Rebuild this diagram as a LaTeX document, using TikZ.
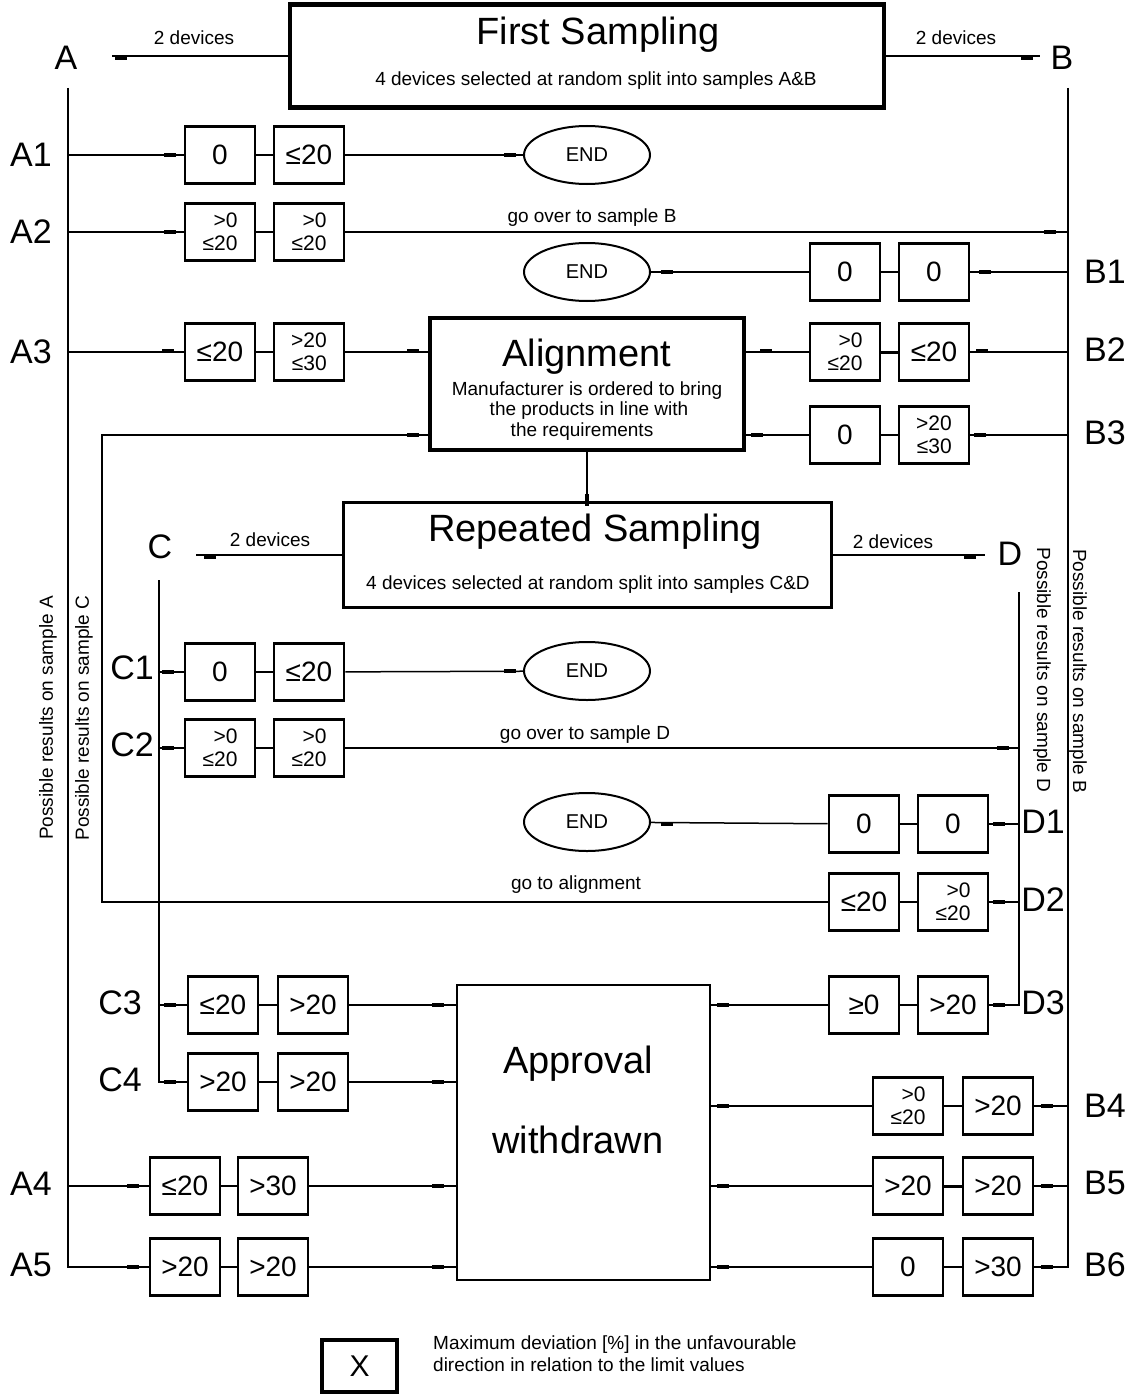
\documentclass[tikz,border=0pt]{standalone}
\usepackage{fontspec}
\setmainfont{Liberation Sans}
\usetikzlibrary{shapes.geometric}
\tikzset{
 conn/.style={line width=1.5pt},
 valbox/.style={draw, line width=2.6pt, minimum width=70pt, minimum height=57pt, inner sep=0pt, font=\fontsize{28}{28}\selectfont},
 valtwo/.style={valbox, align=right, font=\fontsize{21}{23.5}\selectfont},
 endell/.style={ellipse, draw, line width=2pt, minimum width=126pt, minimum height=58pt, inner sep=0pt, font=\fontsize{20}{20}\selectfont},
 lbl/.style={font=\fontsize{34}{34}\selectfont, inner sep=0pt},
 small/.style={font=\fontsize{19}{20.5}\selectfont, inner sep=0pt},
 smallb/.style={small, anchor=base},
 titletext/.style={font=\fontsize{38}{38}\selectfont, inner sep=0pt, anchor=base},
 pinmark/.style={line width=4pt},
 bigbox/.style={draw, inner sep=0pt},
}
\newcommand\pinh[2]{\draw[pinmark] ({#1-6},#2) -- ({#1+6},#2);}
\newcommand\pinv[2]{\draw[pinmark] (#1,{#2-6}) -- (#1,{#2+6});}
\begin{document}
\begin{tikzpicture}[x=1pt,y=-1pt]
\useasboundingbox (0,0) rectangle (1128,1394);

% ---------- big boxes ----------
\node[bigbox, line width=4.5pt, minimum width=594pt, minimum height=103pt] (fs) at (587,56) {};
\node[titletext] (fst) at (598,45) {First Sampling};
\node[smallb] (fss) at (596,86) {4 devices selected at random split into samples A\&B};

\node[bigbox, line width=4pt, minimum width=314pt, minimum height=132pt] (align) at (587,384) {};
\node[titletext] (alt) at (587,366) {Alignment};
\node[smallb] (al1) at (587,395) {Manufacturer is ordered to bring};
\node[smallb] (al2) at (589,415) {the products in line with};
\node[smallb] (al3) at (582,436) {the requirements};

\node[bigbox, line width=3pt, minimum width=488pt, minimum height=105pt] (rs) at (587,555) {};
\node[titletext] (rst) at (595,541) {Repeated Sampling};
\node[smallb] (rss) at (588,589) {4 devices selected at random split into samples C\&D};

\node[bigbox, line width=2.8pt, minimum width=253pt, minimum height=295pt] (appr) at (583.5,1132.5) {};
\node[titletext] (apt1) at (578,1073) {Approval};
\node[titletext] (apt2) at (578,1153) {withdrawn};

% ---------- top labels ----------
\node[lbl] (lA) at (66,58) {A};
\node[lbl] (lB) at (1062,58) {B};
\node[smallb] (dA) at (194,45) {2 devices};
\node[smallb] (dB) at (956,45) {2 devices};
\coordinate (Aend) at (112,56);
\coordinate (Bend) at (1040,56);
\draw[conn] (fs.west) -- (Aend);
\draw[conn] (fs.east) -- (Bend);

\node[lbl] (lC) at (160,547) {C};
\node[lbl] (lD) at (1010,554) {D};
\node[smallb] (dC) at (270,546) {2 devices};
\node[smallb] (dD) at (893,548) {2 devices};
\coordinate (Cend) at (196,555);
\coordinate (Dend) at (985,555);
\draw[conn] (rs.west) -- (Cend);
\draw[conn] (rs.east) -- (Dend);

% ---------- buses ----------
\coordinate (Atop) at (68,88);
\coordinate (Btop) at (1068,88);
\coordinate (Ctop) at (159,580);
\coordinate (Dtop) at (1019,592);

% ---------- row boxes ----------
\node[valbox] (a1a) at (220,155) {0};
\node[valbox] (a1b) at (309,155) {≤20};
\node[endell] (e1) at (587,155) {END};

\node[valtwo] (a2a) at (220,232) {>0\\≤20};
\node[valtwo] (a2b) at (309,232) {>0\\≤20};

\node[endell] (e2) at (587,272) {END};
\node[valbox] (b1a) at (845,272) {0};
\node[valbox] (b1b) at (934,272) {0};

\node[valbox] (a3a) at (220,352) {≤20};
\node[valtwo] (a3b) at (309,352) {>20\\≤30};
\node[valtwo] (b2a) at (845,352) {>0\\≤20};
\node[valbox] (b2b) at (934,352) {≤20};

\node[valbox] (b3a) at (845,435) {0};
\node[valtwo] (b3b) at (934,435) {>20\\≤30};

\node[valbox] (c1a) at (220,672) {0};
\node[valbox] (c1b) at (309,672) {≤20};
\node[endell] (e3) at (587,671) {END};

\node[valtwo] (c2a) at (220,748) {>0\\≤20};
\node[valtwo] (c2b) at (309,748) {>0\\≤20};

\node[endell] (e4) at (587,822) {END};
\node[valbox] (d1a) at (864,824) {0};
\node[valbox] (d1b) at (953,824) {0};

\node[valbox] (d2a) at (864,902) {≤20};
\node[valtwo] (d2b) at (953,902) {>0\\≤20};

\node[valbox] (c3a) at (223,1005) {≤20};
\node[valbox] (c3b) at (313,1005) {>20};
\node[valbox] (d3a) at (864,1005) {≥0};
\node[valbox] (d3b) at (953,1005) {>20};

\node[valbox] (c4a) at (223,1082) {>20};
\node[valbox] (c4b) at (313,1082) {>20};
\node[valtwo] (b4a) at (908,1106) {>0\\≤20};
\node[valbox] (b4b) at (998,1106) {>20};

\node[valbox] (a4a) at (185,1186) {≤20};
\node[valbox] (a4b) at (273,1186) {>30};
\node[valbox] (b5a) at (908,1186) {>20};
\node[valbox] (b5b) at (998,1186) {>20};

\node[valbox] (a5a) at (185,1267) {>20};
\node[valbox] (a5b) at (273,1267) {>20};
\node[valbox] (b6a) at (908,1267) {0};
\node[valbox] (b6b) at (998,1267) {>30};

% ---------- row labels ----------
\node[lbl] (lA1) at (31,155) {A1};
\node[lbl] (lA2) at (31,232) {A2};
\node[lbl] (lA3) at (31,352) {A3};
\node[lbl] (lA4) at (31,1184) {A4};
\node[lbl] (lA5) at (31,1265) {A5};
\node[lbl] (lB1) at (1105,272) {B1};
\node[lbl] (lB2) at (1105,350) {B2};
\node[lbl] (lB3) at (1105,433) {B3};
\node[lbl] (lB4) at (1105,1106) {B4};
\node[lbl] (lB5) at (1105,1183) {B5};
\node[lbl] (lB6) at (1105,1265) {B6};
\node[lbl] (lC1) at (132,668) {C1};
\node[lbl] (lC2) at (132,745) {C2};
\node[lbl] (lC3) at (120,1003) {C3};
\node[lbl] (lC4) at (120,1080) {C4};
\node[lbl] (lD1) at (1043,822) {D1};
\node[lbl] (lD2) at (1043,900) {D2};
\node[lbl] (lD3) at (1043,1003) {D3};

% ---------- vertical texts ----------
\node[small, rotate=90] (vA) at (48,718) {Possible results on sample A};
\node[small, rotate=90] (vC) at (84,718) {Possible results on sample C};
\node[small, rotate=-90] (vD) at (1042,670) {Possible results on sample D};
\node[small, rotate=-90] (vB) at (1078,671) {Possible results on sample B};

% ---------- line labels ----------
\node[smallb] (gB) at (592,222) {go over to sample B};
\node[smallb] (gD) at (585,739) {go over to sample D};
\node[smallb] (gAl) at (576,889) {go to alignment};

% ---------- connectors ----------
\draw[conn] (Atop) |- (a5a.west);
\draw[conn] (Btop) |- (b6b.east);
\draw[conn] (Ctop) |- (c4a.west);
\draw[conn] (Dtop) |- (d3b.east);

\draw[conn] (a1a.west -| Atop) -- (a1a.west);
\draw[conn] (a1a) -- (a1b);
\draw[conn] (a1b) -- (e1);

\draw[conn] (a2a.west -| Atop) -- (a2a.west);
\draw[conn] (a2a) -- (a2b);
\draw[conn] (a2b.east) -- (a2b.east -| Btop);

\draw[conn] (e2) -- (b1a);
\draw[conn] (b1a) -- (b1b);
\draw[conn] (b1b.east) -- (b1b.east -| Btop);

\draw[conn] (a3a.west -| Atop) -- (a3a.west);
\draw[conn] (a3a) -- (a3b);
\draw[conn] (a3b.east) -- (a3b.east -| align.west);

\draw[conn] (align.east |- b2a) -- (b2a.west);
\draw[line width=3pt] (b2a) -- (b2b);
\draw[conn] (b2b.east) -- (b2b.east -| Btop);

\draw[conn] (align.east |- b3a) -- (b3a.west);
\draw[conn] (b3a) -- (b3b);
\draw[conn] (b3b.east) -- (b3b.east -| Btop);

\coordinate (loopc) at (102,435);
\draw[conn] (d2a.west) -| (loopc) -- (align.west |- b3a);

\draw[conn] (align) -- (rs);

\draw[conn] (c1a.west -| Ctop) -- (c1a.west);
\draw[conn] (c1a) -- (c1b);
\draw[conn] (c1b) -- (e3);

\draw[conn] (c2a.west -| Ctop) -- (c2a.west);
\draw[conn] (c2a) -- (c2b);
\draw[conn] (c2b.east) -- (c2b.east -| Dtop);

\draw[conn] (e4) -- (d1a);
\draw[conn] (d1a) -- (d1b);
\draw[conn] (d1b.east) -- (d1b.east -| Dtop);

\draw[conn] (d2a) -- (d2b);
\draw[conn] (d2b.east) -- (d2b.east -| Dtop);

\draw[conn] (c3a.west -| Ctop) -- (c3a.west);
\draw[conn] (c3a) -- (c3b);
\draw[conn] (c3b.east) -- (c3b.east -| appr.west);

\draw[conn] (c4a) -- (c4b);
\draw[conn] (c4b.east) -- (c4b.east -| appr.west);

\draw[conn] (a4a.west -| Atop) -- (a4a.west);
\draw[conn] (a4a) -- (a4b);
\draw[conn] (a4b.east) -- (a4b.east -| appr.west);

\draw[conn] (a5a) -- (a5b);
\draw[conn] (a5b.east) -- (a5b.east -| appr.west);

\draw[conn] (appr.east |- d3a) -- (d3a.west);
\draw[conn] (d3a) -- (d3b);

\draw[conn] (appr.east |- b4a) -- (b4a.west);
\draw[conn] (b4a) -- (b4b);
\draw[conn] (b4b.east) -- (b4b.east -| Btop);

\draw[conn] (appr.east |- b5a) -- (b5a.west);
\draw[line width=3pt] (b5a) -- (b5b);
\draw[conn] (b5b.east) -- (b5b.east -| Btop);

\draw[conn] (appr.east |- b6a) -- (b6a.west);
\draw[conn] (b6a) -- (b6b);

% ---------- pin marks ----------
\pinh{121}{58} \pinh{1027}{58}
\pinh{170}{155} \pinh{510}{155}
\pinh{170}{232} \pinh{1050}{232}
\pinh{667}{272} \pinh{985}{272}
\pinh{168}{351} \pinh{413}{351}
\pinh{766}{351} \pinh{982}{351}
\pinh{757}{435} \pinh{980}{435} \pinh{413}{435}
\pinv{587}{500}
\pinh{210}{557} \pinh{970}{557}
\pinh{168}{672} \pinh{510}{671}
\pinh{168}{748} \pinh{1003}{748}
\pinh{667}{824} \pinh{999}{824}
\pinh{999}{902}
\pinh{170}{1005} \pinh{438}{1005}
\pinh{170}{1082} \pinh{438}{1082}
\pinh{133}{1186} \pinh{438}{1186}
\pinh{133}{1267} \pinh{438}{1267}
\pinh{723}{1005} \pinh{999}{1005}
\pinh{723}{1106} \pinh{1047}{1106}
\pinh{723}{1186} \pinh{1047}{1186}
\pinh{723}{1267} \pinh{1047}{1267}

% ---------- legend ----------
\node[draw, line width=3.5pt, minimum width=75pt, minimum height=52pt, inner sep=0pt, font=\fontsize{30}{30}\selectfont] (xbox) at (359.5,1366) {X};
\node[small, anchor=base west] (leg1) at (433,1349) {Maximum deviation [\%] in the unfavourable};
\node[small, anchor=base west] (leg2) at (433,1371) {direction in relation to the limit values};
\end{tikzpicture}
\end{document}
